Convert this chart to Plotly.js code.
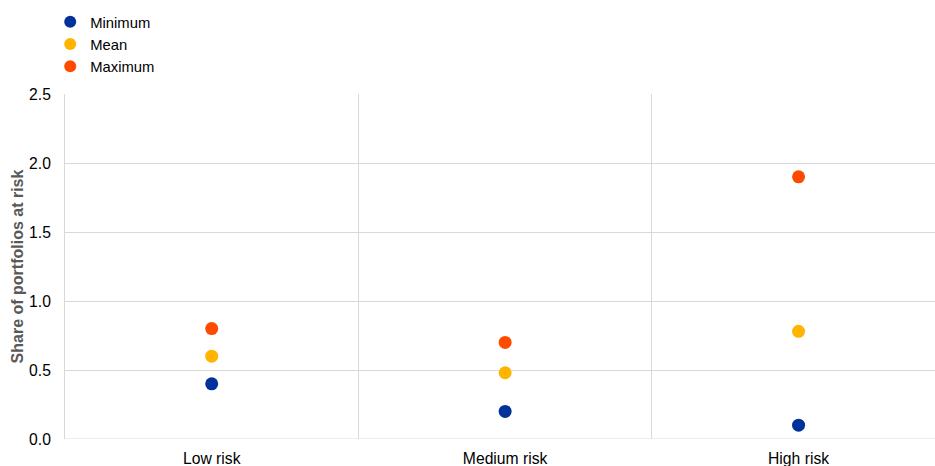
<!DOCTYPE html>
<html><head><meta charset="utf-8">
<script src="https://cdn.plot.ly/plotly-3.0.1.min.js"></script>
<style>html,body{margin:0;padding:0;background:#fff}#chart{width:935px;height:466px}</style>
</head><body><div id="chart"></div>
<script>
const categories = ["Low risk", "Medium risk", "High risk"];
const minimum = [0.40, 0.20, 0.10];
const mean = [0.60, 0.48, 0.78];
const maximum = [0.80, 0.70, 1.90];
const yTicks = [0, 0.5, 1.0, 1.5, 2.0, 2.5];

const idx = categories.map((c, i) => i);
function tr(name, vals, color) {
  return {type: 'scatter', mode: 'markers', name: name, x: idx, y: vals,
    marker: {color: color, size: 13}, cliponaxis: false};
}
const data = [
  tr('Minimum', minimum, '#003299'),
  tr('Mean', mean, '#FFB400'),
  tr('Maximum', maximum, '#FF4B00')
];
const layout = {
  width: 935, height: 466,
  margin: {l: 65, r: 0, t: 94, b: 27},
  paper_bgcolor: '#fff', plot_bgcolor: '#fff',
  font: {family: 'Liberation Sans, Arial, sans-serif', size: 15.7, color: '#000'},
  showlegend: true,
  legend: {x: -0.017, y: 1.256, xanchor: 'left', yanchor: 'top', orientation: 'v',
    font: {size: 14.8}, itemsizing: 'constant', tracegroupgap: 0, bgcolor: 'rgba(0,0,0,0)'},
  xaxis: {range: [-0.5, 2.465], tickvals: idx, ticktext: categories, showgrid: false,
    zeroline: false, showline: false, ticks: '', fixedrange: true, automargin: false,
    tickfont: {size: 15.7}, ticklabelstandoff: 8,
    minor: {tick0: 0.5, dtick: 1, showgrid: true, gridcolor: '#d9d9d9', gridwidth: 1, ticks: ''}},
  yaxis: {range: [0, 2.5], tickvals: yTicks, ticktext: yTicks.map(v => v.toFixed(1)),
    showgrid: true, gridcolor: '#d9d9d9', gridwidth: 1, zeroline: false, automargin: false,
    showline: true, linecolor: '#d9d9d9', linewidth: 1, ticks: '', ticklen: 0,
    tickfont: {size: 15.7}, ticklabelstandoff: 10,
    title: {text: '<b>Share of portfolios at risk</b>', font: {size: 16, color: '#595959'}, standoff: 1}},
  shapes: [{type: 'line', xref: 'paper', yref: 'y', x0: 0, x1: 1, y0: 0, y1: 0,
    line: {color: '#d9d9d9', width: 1}}]
};
Plotly.newPlot('chart', data, layout, {displayModeBar: false, staticPlot: true});
</script></body></html>
